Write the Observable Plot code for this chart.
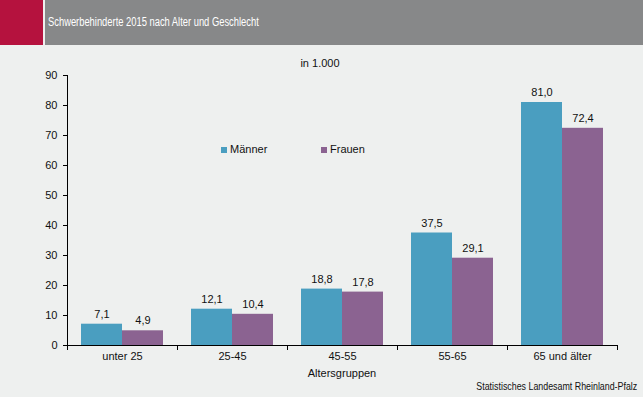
<!DOCTYPE html>
<html><head><meta charset="utf-8">
<script src="https://cdn.jsdelivr.net/npm/d3@7"></script>
<script src="https://cdn.jsdelivr.net/npm/@observablehq/plot@0.6"></script>
<style>
html,body{margin:0;padding:0;background:#EEF0EF;}
#wrap{position:relative;width:643px;height:397px;overflow:hidden;background:#EEF0EF;font-family:"Liberation Sans",Arial,sans-serif;color:#111;}
#red{position:absolute;left:0;top:0;width:43px;height:45px;background:#B5123E;}
#hdr{position:absolute;left:45px;top:0;width:598px;height:45px;background:#878889;}
#hdr span{position:absolute;left:3px;top:16px;color:#fff;font-size:12px;line-height:1;white-space:nowrap;transform:scaleX(0.78);transform-origin:left center;}
#chart{position:absolute;left:0;top:45px;}
.ov{position:absolute;white-space:nowrap;font-size:11px;line-height:1;}
#sub{left:320px;top:58px;transform:translateX(-50%);}
#xlab{left:342px;top:368px;transform:translateX(-50%);}
#src{right:6px;top:381px;font-size:10.8px;transform:scaleX(0.82);transform-origin:right center;}
.leg{position:absolute;top:144px;font-size:11px;line-height:11px;display:flex;align-items:center;white-space:nowrap;}
.sw{display:inline-block;width:6px;height:6px;margin-right:3px;}
</style>
</head><body>
<div id="wrap">
  <div id="red"></div>
  <div id="hdr"><span>Schwerbehinderte 2015 nach Alter und Geschlecht</span></div>
  <div id="chart"></div>
  <div class="ov" id="sub">in 1.000</div>
  <div class="leg" id="leg0" style="left:221px"><span class="sw" style="background:#4A9EC0"></span><span>Männer</span></div>
  <div class="leg" id="leg1" style="left:321px"><span class="sw" style="background:#8B6391"></span><span>Frauen</span></div>
  <div class="ov" id="xlab">Altersgruppen</div>
  <div class="ov" id="src">Statistisches Landesamt Rheinland-Pfalz</div>
</div>
<script>
const categories = ["unter 25", "25-45", "45-55", "55-65", "65 und älter"];
const series = ["Männer", "Frauen"];
const maenner = [7.1, 12.1, 18.8, 37.5, 81.0];
const frauen = [4.9, 10.4, 17.8, 29.1, 72.4];
const yTicks = [0, 10, 20, 30, 40, 50, 60, 70, 80, 90];
const colors = ["#4A9EC0", "#8B6391"];

const data = categories.flatMap((c, i) => [
  {cat: c, sex: series[0], value: maenner[i]},
  {cat: c, sex: series[1], value: frauen[i]}
]);
const fmt = v => v.toFixed(1).replace(".", ",");
const half = 110 / 2 - 20.5; // from bar centre to category edge

const chart = Plot.plot({
  width: 643,
  height: 352,
  marginTop: 30,
  marginBottom: 52,
  marginLeft: 67,
  marginRight: 26,
  style: {background: "transparent", fontFamily: "Liberation Sans, Arial, sans-serif", fontSize: "11px", color: "#111"},
  fx: {domain: categories, padding: 0, label: null},
  x: {domain: series, paddingInner: 0, paddingOuter: 0.34146, axis: null},
  y: {domain: [0, 90], label: null},
  color: {domain: series, range: colors},
  marks: [
    Plot.axisY({ticks: yTicks, tickSize: 4, tickPadding: 6, label: null, stroke: "#000", fill: "#111"}),
    Plot.axisFx({anchor: "bottom", tickSize: 0, tickPadding: 7, label: null, fill: "#111"}),
    Plot.barY(data, {fx: "cat", x: "sex", y: "value", fill: "sex"}),
    Plot.text(data, {fx: "cat", x: "sex", y: "value", text: d => fmt(d.value), dy: -10, lineAnchor: "middle", fill: "#111", fontSize: 11}),
    Plot.ruleY([0], {stroke: "#000"}),
    Plot.ruleX(categories, {fx: d => d, x: () => series[0], y1: 0, y2: 0, insetBottom: -5, dx: -half, stroke: "#000"}),
    Plot.ruleX([categories[categories.length - 1]], {fx: d => d, x: () => series[1], y1: 0, y2: 0, insetBottom: -5, dx: half, stroke: "#000"}),
    Plot.ruleX([categories[0]], {fx: d => d, x: () => series[0], y1: 0, y2: 90, dx: -half, stroke: "#000"})
  ]
});
document.getElementById("chart").appendChild(chart);
</script>
</body></html>
